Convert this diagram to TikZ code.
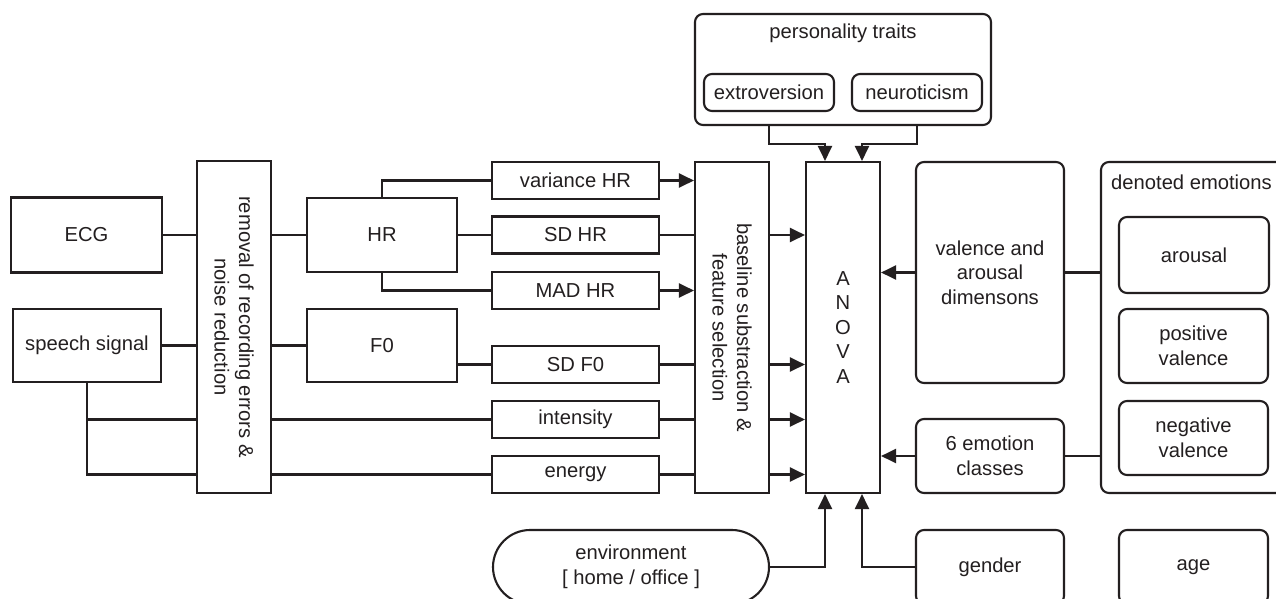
\documentclass[tikz,border=0pt]{standalone}
\usepackage{fontspec}
\setmainfont{Liberation Sans}
\usetikzlibrary{arrows.meta}
\definecolor{ink}{HTML}{231F20}
\begin{document}
\begin{tikzpicture}[x=1pt,y=-1pt,
  txt/.style={text=ink, align=center, inner sep=0pt, font=\fontsize{20.2}{24.5}\selectfont},
  box/.style={txt, draw=ink, line width=2.1pt, rectangle},
  rbox/.style={box, rounded corners=8pt},
  wire/.style={draw=ink, line width=2.1pt},
  arr/.style={wire, -{Triangle[length=15pt,width=14pt]}}]
\useasboundingbox (0,0) rectangle (1276,598);
\clip (0,0) rectangle (1276,598);
\fill[white] (0,0) rectangle (1276,598);
% left column
\node[box, minimum width=151pt, minimum height=75pt] (ecg) at (86.5,235) {ECG};
\node[box, minimum width=148pt, minimum height=73pt] (speech) at (87,345.5) {speech signal};
\node[box, minimum width=74pt, minimum height=332pt] (rem) at (234,327) {};
\node[txt, rotate=-90] (remtxt) at (rem.center) {removal of recording errors \&\\noise reduction};
\node[box, minimum width=150pt, minimum height=74pt] (hr) at (382,235) {HR};
\node[box, minimum width=150pt, minimum height=73pt] (f0) at (382,345.5) {F0};
% feature boxes
\node[box, minimum width=167pt, minimum height=37pt] (varhr) at (575.5,180.5) {variance HR};
\node[box, minimum width=167pt, minimum height=37pt] (sdhr) at (575.5,235) {SD HR};
\node[box, minimum width=167pt, minimum height=37pt] (madhr) at (575.5,290.5) {MAD HR};
\node[box, minimum width=167pt, minimum height=37pt] (sdf0) at (575.5,364.5) {SD F0};
\node[box, minimum width=167pt, minimum height=37pt] (inten) at (575.5,419.5) {intensity};
\node[box, minimum width=167pt, minimum height=37pt] (energy) at (575.5,474.5) {energy};
% baseline and anova
\node[box, minimum width=74pt, minimum height=331pt] (base) at (732,327.5) {};
\node[txt, rotate=-90] (basetxt) at (base.center) {baseline substraction \&\\feature selection};
\node[box, minimum width=74pt, minimum height=331pt] (anova) at (843,327.5) {A\\N\\O\\V\\A};
% personality
\node[rbox, minimum width=296pt, minimum height=111pt] (pers) at (843,69.5) {};
\node[txt] (perstxt) at (843,33) {personality traits};
\node[rbox, minimum width=130pt, minimum height=37pt] (extro) at (769,92.5) {extroversion};
\node[rbox, minimum width=130pt, minimum height=37pt] (neuro) at (917,92.5) {neuroticism};
% right side
\node[rbox, minimum width=148pt, minimum height=221pt] (val) at (990,272.5) {valence and\\arousal\\dimensons};
\node[rbox, minimum width=148pt, minimum height=74pt] (emo6) at (990,456) {6 emotion\\classes};
\node[rbox, minimum width=199pt, minimum height=331pt] (den) at (1200.5,327.5) {};
\node[txt, anchor=west] (dentxt) at (1111,182) {denoted emotions};
\node[rbox, minimum width=150pt, minimum height=76pt] (arou) at (1194,255) {arousal};
\node[rbox, minimum width=149pt, minimum height=74pt] (posv) at (1193.5,346) {positive\\valence};
\node[rbox, minimum width=149pt, minimum height=74pt] (negv) at (1193.5,438) {negative\\valence};
% bottom
\node[box, rounded corners=37pt, minimum width=276pt, minimum height=74pt] (env) at (631,567) {environment\\{[} home / office ]};
\node[rbox, minimum width=148pt, minimum height=74pt] (gender) at (990,567) {gender};
\node[rbox, minimum width=149pt, minimum height=74pt] (age) at (1193.5,567) {age};
% connectors left
\draw[wire] (ecg.east) -- (ecg.east -| rem.west);
\draw[wire] (speech.east) -- (speech.east -| rem.west);
\draw[wire] (rem.east |- hr) -- (hr.west);
\draw[wire] (rem.east |- f0) -- (f0.west);
\draw[wire] (speech.south) -- (speech.south |- energy) -- (energy -| rem.west);
\draw[wire] (speech.south |- inten) -- (inten -| rem.west);
\draw[wire] (rem.east |- inten) -- (inten.west);
\draw[wire] (rem.east |- energy) -- (energy.west);
\draw[wire] (hr.north) -- (hr.north |- varhr) -- (varhr.west);
\draw[wire] (hr.east) -- (sdhr.west);
\draw[wire] (hr.south) -- (hr.south |- madhr) -- (madhr.west);
\draw[wire] (f0.east |- sdf0) -- (sdf0.west);
% to baseline
\draw[arr] (varhr.east) -- (varhr.east -| base.west);
\draw[wire] (sdhr.east) -- (sdhr.east -| base.west);
\draw[arr] (madhr.east) -- (madhr.east -| base.west);
\draw[wire] (sdf0.east) -- (sdf0.east -| base.west);
\draw[wire] (inten.east) -- (inten.east -| base.west);
\draw[wire] (energy.east) -- (energy.east -| base.west);
% to anova
\draw[arr] (base.east |- sdhr) -- (sdhr -| anova.west);
\draw[arr] (base.east |- sdf0) -- (sdf0 -| anova.west);
\draw[arr] (base.east |- inten) -- (inten -| anova.west);
\draw[arr] (base.east |- energy) -- (energy -| anova.west);
\draw[arr] (extro.south |- pers.south) -- ++(0,18) -| ([xshift=-18pt]anova.north);
\draw[arr] (neuro.south |- pers.south) -- ++(0,18) -| ([xshift=19pt]anova.north);
\draw[arr] (val.west) -- (val.west -| anova.east);
\draw[wire] (val.east) -- (val.east -| den.west);
\draw[arr] (emo6.west) -- (emo6.west -| anova.east);
\draw[wire] (emo6.east) -- (emo6.east -| den.west);
\draw[arr] (env.east) -| ([xshift=-18pt]anova.south);
\draw[arr] (gender.west) -| ([xshift=19pt]anova.south);
\end{tikzpicture}
\end{document}
